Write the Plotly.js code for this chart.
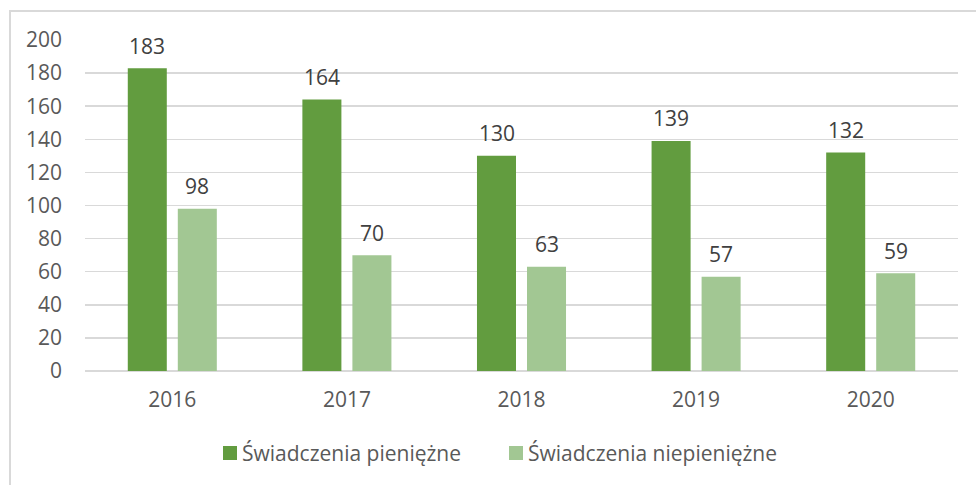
<!DOCTYPE html>
<html><head><meta charset="utf-8">
<script src="https://cdn.plot.ly/plotly-3.0.1.min.js"></script>
<style>
html,body{margin:0;padding:0;background:#fff;}
#wrap{position:relative;width:976px;height:485px;}
#chart{width:976px;height:485px;}
#frame{position:absolute;left:9px;top:10px;width:990px;height:500px;border-left:2px solid #d9d9d9;border-top:2px solid #d9d9d9;pointer-events:none;}
</style></head>
<body>
<div id="wrap"><div id="chart"></div><div id="frame"></div></div>
<script>
const years = ['2016','2017','2018','2019','2020'];
const pieniezne = [183,164,130,139,132];
const niepieniezne = [98,70,63,57,59];
const seriesNames = ['Świadczenia pieniężne','Świadczenia niepieniężne'];
const yTicks = [0,20,40,60,80,100,120,140,160,180,200];

const font = 'Open Sans, Liberation Sans, sans-serif';
const colors = ['#629c3f','#a2c793'];
const FS = 21;

const traces = [pieniezne, niepieniezne].map((vals,i)=>({
  type:'bar', x:years, y:vals, name:seriesNames[i],
  marker:{color:colors[i]}, hoverinfo:'none'
}));

const annotations = [];
[pieniezne, niepieniezne].forEach((vals,i)=>{
  vals.forEach((v,j)=>{
    annotations.push({x:j, y:v, xref:'x', yref:'y', text:String(v),
      showarrow:false, xshift: i===0?-25:25, yshift:22.5, yanchor:'middle',
      font:{family:font,size:FS,color:'#404040'}});
  });
});

// manual legend (Excel style: small square right next to text)
const legendX = [0.1787, 0.5063];
const squareX = [[0.1581,0.1741],[0.4857,0.5017]];
const shapes = [];
seriesNames.forEach((n,i)=>{
  annotations.push({xref:'paper', yref:'paper', x:legendX[i], y:-0.2477, xanchor:'left', yanchor:'middle',
    text:n, showarrow:false, borderpad:0, font:{family:font,size:FS,color:'#595959'}});
  shapes.push({type:'rect', xref:'paper', yref:'paper', x0:squareX[i][0], x1:squareX[i][1],
    y0:-0.2689, y1:-0.2266, fillcolor:colors[i], line:{width:0}});
});

const layout = {
  width:976, height:485,
  margin:{l:85,r:18,t:40,b:114},
  paper_bgcolor:'rgba(0,0,0,0)', plot_bgcolor:'rgba(0,0,0,0)',
  barmode:'group', bargap:0.427, bargroupgap:0.22,
  font:{family:font,size:FS,color:'#595959'},
  xaxis:{type:'category', range:[-0.5,4.5], autorange:false, showgrid:false, zeroline:false, showline:false,
    ticks:'outside', ticklen:10, tickcolor:'rgba(0,0,0,0)',
    tickfont:{family:font,size:FS,color:'#595959'}},
  yaxis:{range:[0,200], autorange:false, tickvals:yTicks, showgrid:true, gridcolor:'#d9d9d9', gridwidth:1.5,
    zeroline:true, zerolinecolor:'#d9d9d9', zerolinewidth:1.5, showline:false,
    ticklabelstandoff:22, tickfont:{family:font,size:FS,color:'#595959'}},
  showlegend:false,
  annotations:annotations,
  shapes:shapes
};
Plotly.newPlot('chart', traces, layout, {displayModeBar:false, staticPlot:true});
</script>
</body></html>
